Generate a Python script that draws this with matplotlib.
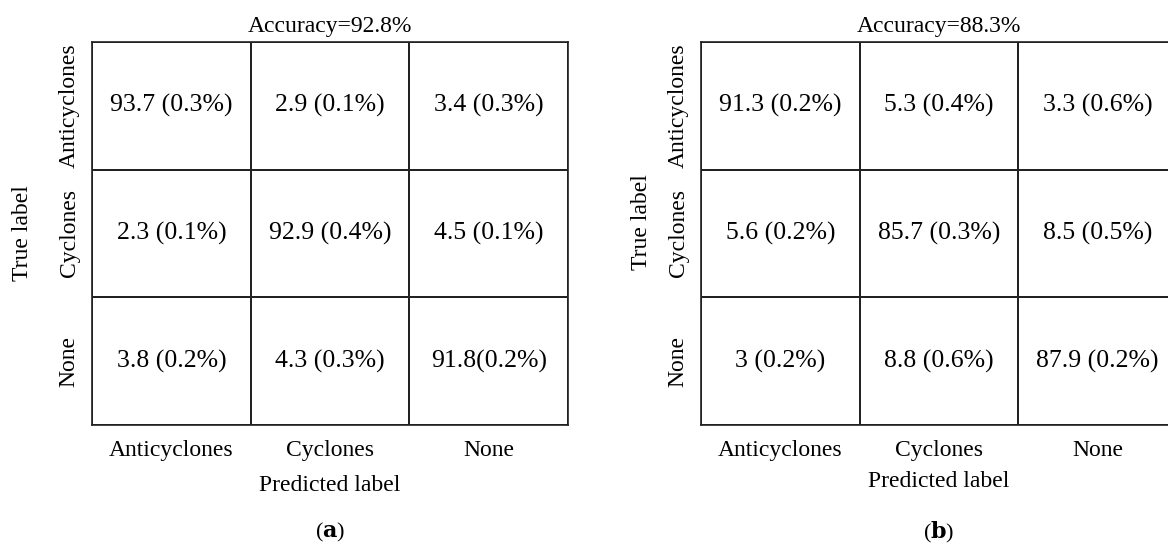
import matplotlib
matplotlib.use('Agg')
import matplotlib.pyplot as plt
from matplotlib.colors import ListedColormap
import numpy as np

plt.rcParams['font.family'] = ['Liberation Serif', 'DejaVu Serif']
plt.rcParams['mathtext.fontset'] = 'custom'
plt.rcParams['mathtext.rm'] = 'Liberation Serif'
plt.rcParams['mathtext.bf'] = 'DejaVu Serif:bold'

classes = ['Anticyclones', 'Cyclones', 'None']

# mean accuracy per cell and its spread, rows = true, cols = predicted
mean_a = [[93.7, 2.9, 3.4],
          [2.3, 92.9, 4.5],
          [3.8, 4.3, 91.8]]
std_a = [[0.3, 0.1, 0.3],
         [0.1, 0.4, 0.1],
         [0.2, 0.3, 0.2]]
acc_a = 92.8

mean_b = [[91.3, 5.3, 3.3],
          [5.6, 85.7, 8.5],
          [3, 8.8, 87.9]]
std_b = [[0.2, 0.4, 0.6],
         [0.2, 0.3, 0.5],
         [0.2, 0.6, 0.2]]
acc_b = 88.3

fig = plt.figure(figsize=(11.68, 5.46), dpi=100)
ax1 = fig.add_axes([0.0788, 0.2216, 0.4075, 0.7015])
ax2 = fig.add_axes([0.6002, 0.2216, 0.4075, 0.7015])


def draw_cm(ax, mean, std, acc, tag, ylab_x, ylab_y, xlab_pad):
    m = np.array(mean, dtype=float)
    ax.pcolormesh(m, cmap=ListedColormap(['white']), edgecolors='#222222', linewidth=1.2)
    ax.set_xlim(0, 3)
    ax.set_ylim(3, 0)
    for i in range(3):
        for j in range(3):
            # the original table drops the space in one cell
            sep = '' if (tag == 'a' and i == 2 and j == 2) else ' '
            ax.text(j + 0.5, i + 0.5, '{:g}{}({:g}%)'.format(mean[i][j], sep, std[i][j]),
                    ha='center', va='center', fontsize=18.5)
    ax.set_xticks(np.arange(3) + 0.5)
    ax.set_yticks(np.arange(3) + 0.5)
    ax.set_xticklabels(classes, fontsize=17)
    ax.set_yticklabels(classes, fontsize=17, rotation=90, va='center')
    ax.tick_params(length=0)
    ax.tick_params(axis='x', pad=11)
    ax.tick_params(axis='y', pad=9)
    for s in ax.spines.values():
        s.set_color('#222222')
        s.set_linewidth(1.2)
    ax.set_title('Accuracy={}%'.format(acc), fontsize=17, pad=7)
    ax.set_xlabel('Predicted label', fontsize=17, labelpad=xlab_pad)
    ax.set_ylabel('True label', fontsize=17)
    ax.yaxis.set_label_coords(ylab_x, ylab_y)
    ax.text(0.5, -0.28, r'($\mathbf{' + tag + '}$)', transform=ax.transAxes,
            ha='center', va='center', fontsize=16)


draw_cm(ax1, mean_a, std_a, acc_a, 'a', -0.124, 0.5, 10)
draw_cm(ax2, mean_b, std_b, acc_b, 'b', -0.104, 0.53, 7)

fig.savefig('out.png', dpi=100)
